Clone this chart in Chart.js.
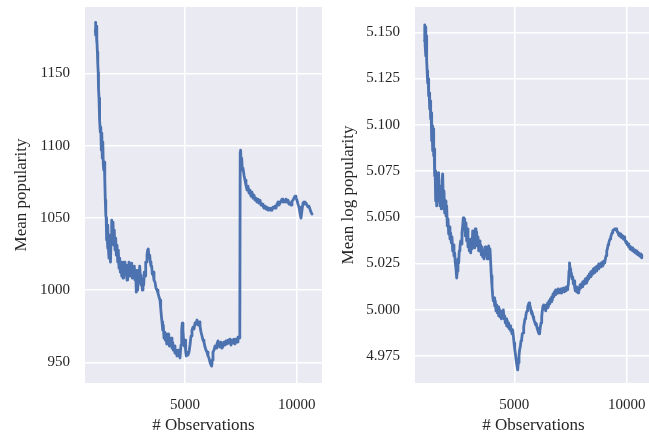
<!DOCTYPE html>
<html>
<head>
<meta charset="utf-8">
<script src="https://cdn.jsdelivr.net/npm/chart.js@4.4.1/dist/chart.umd.min.js"></script>
<style>
  html, body { margin: 0; padding: 0; background: #ffffff; overflow: hidden; }
  #wrap { position: relative; width: 649px; height: 442px; overflow: hidden; }
  canvas { position: absolute; top: 0; }
</style>
</head>
<body>
<div id="wrap">
  <canvas id="c1" width="325" height="442" style="left:0px"></canvas>
  <canvas id="c2" width="325" height="442" style="left:330px"></canvas>
</div>
<script>
// ---- Left panel: Mean popularity ----
const obsLeft = [985,994,1007,1025,1043,1061,1079,1097,1115,1128,1151,1169,1186,1209,1231,1254,1276,1298,1321,1343,1366,1388,1410,1433,1455,1473,1491,1509,1531,1553,1576,1598,1621,1643,1666,1688,1720,1746,1777,1809,1835,1867,1898,1925,1956,1988,2015,2046,2077,2104,2136,2167,2194,2225,2257,2283,2314,2346,2373,2404,2435,2462,2493,2525,2552,2583,2614,2641,2672,2704,2731,2762,2793,2820,2852,2883,2910,2941,2972,2999,3030,3062,3089,3120,3152,3178,3210,3241,3268,3299,3330,3357,3389,3420,3447,3478,3510,3536,3568,3612,3657,3702,3747,3791,3836,3881,3912,3939,3971,4002,4029,4060,4092,4118,4150,4181,4208,4239,4270,4297,4329,4360,4387,4418,4449,4476,4508,4552,4597,4642,4687,4731,4776,4821,4852,4879,4910,4942,4969,5000,5031,5058,5090,5134,5179,5224,5269,5313,5358,5403,5448,5492,5537,5582,5627,5671,5716,5761,5806,5850,5895,5940,5985,6029,6074,6119,6164,6195,6222,6253,6298,6343,6388,6432,6477,6522,6567,6611,6656,6701,6746,6790,6835,6880,6925,6969,7014,7059,7104,7149,7193,7238,7283,7328,7372,7417,7453,7471,7489,7507,7538,7565,7596,7641,7686,7730,7775,7820,7865,7909,7954,7999,8044,8088,8133,8178,8223,8267,8312,8357,8402,8447,8491,8536,8581,8626,8670,8715,8760,8805,8849,8894,8939,8984,9028,9073,9118,9163,9207,9252,9297,9342,9386,9431,9476,9521,9566,9610,9655,9700,9745,9789,9834,9879,9924,9968,10013,10058,10103,10147,10192,10237,10282,10327,10371,10416,10461,10506,10550,10595,10640,10685];
const meanPop = [1179.8,1185.3,1176.4,1182.6,1171.5,1174.3,1164.6,1156.3,1150.8,1139.7,1132.8,1124.5,1117.6,1109.3,1112.7,1096.8,1108.6,1091.3,1102.4,1086.5,1083,1088.5,1076.1,1062.2,1051.9,1049.8,1034.6,1041.5,1029,1045,1027.7,1022.1,1038,1024.2,1019.4,1034.6,1048.4,1040.1,1047,1031.1,1041.5,1027.7,1036,1024.2,1031.1,1019.4,1027.7,1015.2,1022.1,1012.4,1019.4,1009.7,1018,1008.3,1019.4,1013.8,1019.4,1010.4,1017.3,1006.9,1016.6,1012.4,1019.4,1009.7,1018,1013.8,1018.7,1008.3,1015.2,1009.7,1016.6,1006.9,1013.8,998.6,1010.4,1000,1013.8,1005.5,1016.6,1010.4,1003.5,1008.3,1000,1006.9,1003.5,1012.4,1009.7,1019.4,1019.4,1024.2,1027.7,1028.4,1022.1,1024.2,1019.4,1016.6,1016.6,1011.1,1012.4,1006.9,1005.5,1001.4,1000,997.9,995.2,993.1,987.6,982.7,977.9,972.3,975.8,966.8,970.9,965.4,969.6,962.7,968.2,964,969.6,961.3,965.4,962.7,966.8,959.9,964,958.5,961.3,956.4,958.5,954.4,958.5,955.7,953,962,972.3,977.2,972.3,964,961.3,965.4,957.1,954.4,957.1,955,957.1,962,968.2,972.3,974.4,973,977.2,976.5,979.3,975.8,977.9,975.1,971,968.2,965.4,964,960.6,958.5,957.1,954.4,953,950.2,948.1,947.4,951.6,957.1,958.5,961.3,959.9,962.7,964.8,962.7,960.6,964,959.9,961.3,964,962,964.8,962.7,965.4,963.3,966.1,962,965.4,963.3,966.1,962.7,966.1,964,967.5,966.8,969,1095.4,1096.8,1088.5,1091.3,1083,1084.4,1079.5,1076.1,1072.6,1069.2,1071.9,1067.1,1069.2,1065,1067.8,1063.6,1065.7,1062.2,1063.6,1060.9,1062.9,1060.2,1062.2,1058.8,1059.5,1058.1,1056.7,1058.1,1056,1057.4,1055.3,1056.7,1055.3,1056.7,1055.3,1057.4,1056.7,1058.1,1056.7,1059.5,1060.9,1058.8,1060.2,1061.6,1062.9,1060.9,1062.2,1060.9,1062.9,1060.9,1062.2,1059.5,1060.2,1058.8,1061.6,1062.2,1063.6,1065,1063.6,1062.2,1059.5,1057.4,1053.3,1049.8,1055.3,1060.2,1060.9,1059.5,1060.2,1058.8,1057.4,1058.1,1056,1053.9,1052.6];

// ---- Right panel: Mean log popularity ----
const obsRight = [1004,1017,1035,1053,1071,1084,1102,1124,1146,1169,1191,1213,1236,1258,1280,1302,1325,1347,1369,1391,1414,1436,1458,1480,1502,1525,1547,1569,1591,1614,1636,1663,1694,1725,1752,1783,1814,1841,1872,1903,1930,1961,1992,2019,2050,2081,2108,2139,2170,2197,2228,2259,2286,2317,2348,2375,2406,2437,2464,2495,2526,2553,2584,2615,2642,2673,2704,2731,2762,2793,2820,2851,2882,2909,2940,2971,2998,3029,3060,3087,3118,3149,3176,3207,3238,3265,3296,3327,3354,3385,3416,3443,3474,3505,3532,3563,3594,3621,3652,3683,3710,3741,3772,3799,3830,3861,3888,3919,3950,3977,4008,4039,4066,4097,4128,4155,4186,4217,4244,4275,4306,4333,4364,4395,4422,4453,4484,4511,4542,4573,4600,4631,4662,4689,4720,4751,4778,4809,4840,4867,4898,4929,4956,4987,5018,5045,5076,5107,5134,5151,5178,5209,5240,5267,5298,5329,5356,5387,5418,5445,5476,5507,5534,5565,5596,5623,5654,5685,5712,5743,5774,5801,5832,5863,5890,5921,5952,5979,6010,6041,6068,6099,6130,6157,6188,6219,6246,6277,6308,6335,6366,6397,6424,6455,6486,6513,6544,6575,6602,6633,6664,6691,6722,6753,6780,6811,6842,6869,6900,6931,6958,6989,7020,7047,7078,7109,7136,7167,7198,7225,7256,7287,7314,7345,7376,7403,7434,7456,7479,7510,7537,7568,7599,7626,7657,7688,7715,7746,7777,7804,7835,7866,7893,7924,7955,7982,8013,8044,8071,8102,8133,8160,8191,8222,8249,8280,8311,8338,8369,8400,8427,8458,8489,8516,8547,8578,8605,8636,8667,8694,8725,8756,8783,8814,8845,8872,8903,8934,8961,8992,9023,9050,9081,9112,9139,9170,9201,9228,9259,9290,9317,9348,9379,9406,9437,9468,9495,9526,9557,9584,9615,9646,9673,9704,9735,9762,9793,9824,9851,9882,9913,9940,9971,10002,10029,10060,10091,10118,10149,10180,10207,10238,10269,10296,10327,10358,10385,10416,10447,10474,10505,10536,10563,10594,10625,10652,10670];
const meanLogPop = [5.1454,5.1540,5.1427,5.1529,5.1373,5.1481,5.1345,5.1291,5.1226,5.1248,5.1156,5.1172,5.1086,5.1129,5.1032,5.1064,5.0913,5.0994,5.0859,5.0978,5.0832,5.0869,5.0723,5.0750,5.0588,5.0707,5.0561,5.0669,5.0588,5.0740,5.0615,5.0669,5.0561,5.0642,5.0545,5.0696,5.0734,5.0588,5.0642,5.0523,5.0588,5.0507,5.0561,5.0453,5.0491,5.0410,5.0447,5.0382,5.0415,5.0361,5.0393,5.0318,5.0350,5.0291,5.0307,5.0253,5.0220,5.0171,5.0209,5.0274,5.0253,5.0318,5.0339,5.0372,5.0355,5.0415,5.0453,5.0496,5.0437,5.0491,5.0399,5.0469,5.0372,5.0437,5.0339,5.0382,5.0318,5.0350,5.0307,5.0382,5.0328,5.0426,5.0350,5.0415,5.0334,5.0437,5.0372,5.0420,5.0345,5.0393,5.0318,5.0372,5.0323,5.0350,5.0296,5.0339,5.0285,5.0318,5.0274,5.0307,5.0339,5.0296,5.0328,5.0274,5.0318,5.0345,5.0307,5.0328,5.0253,5.0182,5.0128,5.0074,5.0047,5.0063,5.0020,5.0047,4.9993,5.0025,4.9982,5.0015,4.9966,5.0004,4.9961,4.9993,4.9950,4.9982,4.9961,4.9998,4.9950,4.9966,4.9928,4.9950,4.9912,4.9939,4.9906,4.9928,4.9896,4.9912,4.9885,4.9896,4.9869,4.9890,4.9858,4.9820,4.9787,4.9766,4.9733,4.9706,4.9685,4.9674,4.9712,4.9750,4.9787,4.9798,4.9831,4.9842,4.9869,4.9874,4.9906,4.9928,4.9950,4.9961,4.9982,4.9993,5.0015,5.0025,5.0036,5.0025,5.0015,4.9993,4.9977,4.9982,4.9961,4.9950,4.9939,4.9928,4.9917,4.9923,4.9901,4.9890,4.9879,4.9869,4.9879,4.9906,4.9928,4.9961,4.9993,5.0020,5.0025,5.0004,5.0020,4.9993,5.0025,5.0009,5.0036,5.0015,5.0047,5.0031,5.0058,5.0042,5.0069,5.0052,5.0085,5.0069,5.0096,5.0080,5.0107,5.0085,5.0107,5.0090,5.0112,5.0090,5.0107,5.0096,5.0112,5.0090,5.0112,5.0101,5.0117,5.0096,5.0112,5.0101,5.0123,5.0107,5.0123,5.0134,5.0209,5.0253,5.0220,5.0182,5.0199,5.0166,5.0177,5.0139,5.0155,5.0117,5.0101,5.0123,5.0096,5.0112,5.0090,5.0117,5.0107,5.0134,5.0117,5.0139,5.0123,5.0150,5.0134,5.0155,5.0139,5.0166,5.0144,5.0171,5.0155,5.0182,5.0166,5.0193,5.0177,5.0204,5.0182,5.0209,5.0193,5.0220,5.0199,5.0226,5.0209,5.0231,5.0209,5.0236,5.0220,5.0247,5.0226,5.0247,5.0231,5.0253,5.0236,5.0258,5.0242,5.0263,5.0253,5.0274,5.0291,5.0318,5.0328,5.0350,5.0361,5.0372,5.0382,5.0393,5.0404,5.0415,5.0426,5.0431,5.0431,5.0437,5.0437,5.0437,5.0431,5.0420,5.0415,5.0404,5.0399,5.0410,5.0393,5.0404,5.0388,5.0399,5.0382,5.0393,5.0377,5.0372,5.0361,5.0366,5.0350,5.0355,5.0339,5.0345,5.0328,5.0339,5.0323,5.0334,5.0318,5.0328,5.0312,5.0323,5.0307,5.0318,5.0301,5.0312,5.0296,5.0307,5.0291,5.0301,5.0285,5.0296,5.0280];

// ---- Tick labels ----
const xTicks = [5000, 10000];
const yTicksLeft = [950, 1000, 1050, 1100, 1150];
const yTicksRight = [4.975, 5.000, 5.025, 5.050, 5.075, 5.100, 5.125, 5.150];

const FONT = "'Liberation Serif', 'Times New Roman', serif";
const TXT = '#262626';

const bgPlugin = {
  id: 'bg',
  beforeDraw(chart) {
    const a = chart.chartArea, ctx = chart.ctx;
    ctx.save();
    ctx.fillStyle = '#EAEAF2';
    ctx.fillRect(a.left, a.top, a.right - a.left, a.bottom - a.top);
    ctx.restore();
  }
};

function makeChart(id, xs, ys, cfg) {
  const pts = xs.map((x, i) => ({ x: x, y: ys[i] }));
  return new Chart(document.getElementById(id), {
    type: 'line',
    data: { datasets: [{ data: pts, borderColor: '#4C72B0', borderWidth: 2.8, pointRadius: 0, tension: 0, fill: false, borderJoinStyle: 'round', borderCapStyle: 'round' }] },
    plugins: [bgPlugin],
    options: {
      responsive: false, animation: false,
      layout: { padding: { top: 7, right: cfg.padRight, left: 0, bottom: 0 } },
      plugins: { legend: { display: false }, tooltip: { enabled: false } },
      scales: {
        x: {
          type: 'linear', min: cfg.xmin, max: cfg.xmax,
          afterFit(s) { s.height = 59; s.paddingLeft = 0; s.paddingRight = 0; s.paddingTop = 0; s.paddingBottom = 0; },
          afterBuildTicks(s) { s.ticks = xTicks.map(v => ({ value: v })); },
          grid: { color: '#ffffff', lineWidth: 1.5, drawTicks: false },
          border: { display: false },
          ticks: { padding: 13, color: TXT, font: { family: FONT, size: 15 }, maxRotation: 0, callback: v => String(v) },
          title: { display: true, text: '# Observations', color: TXT, font: { family: FONT, size: 17 }, padding: { top: 0, bottom: 6 } }
        },
        y: {
          type: 'linear', min: cfg.ymin, max: cfg.ymax,
          afterFit(s) { s.width = 85; s.paddingLeft = 0; s.paddingRight = 0; s.paddingTop = 0; s.paddingBottom = 0; },
          afterBuildTicks(s) { s.ticks = cfg.yTicks.map(v => ({ value: v })); },
          grid: { color: '#ffffff', lineWidth: 1.5, drawTicks: false },
          border: { display: false },
          ticks: { padding: 15, color: TXT, font: { family: FONT, size: 15 }, callback: cfg.fmt },
          title: { display: true, text: cfg.ytitle, color: TXT, font: { family: FONT, size: 17 }, padding: { top: cfg.titlePad, bottom: 0 } }
        }
      }
    }
  });
}

makeChart('c1', obsLeft, meanPop, {
  xmin: 524, xmax: 11132, ymin: 935.7, ymax: 1195.9,
  yTicks: yTicksLeft, fmt: v => String(v), ytitle: 'Mean popularity', titlePad: 11, padRight: 3
});
makeChart('c2', obsRight, meanLogPop, {
  xmin: 583, xmax: 11125, ymin: 4.9603, ymax: 5.1637,
  yTicks: yTicksRight, fmt: v => Number(v).toFixed(3), ytitle: 'Mean log popularity', titlePad: 8, padRight: 3
});
</script>
</body>
</html>
